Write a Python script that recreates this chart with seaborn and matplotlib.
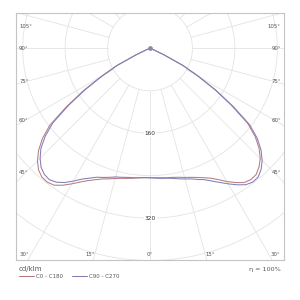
import matplotlib
matplotlib.use("Agg")
import matplotlib.pyplot as plt
import numpy as np
import pandas as pd
import seaborn as sns


# gamma angles (deg from nadir) and luminous intensity (cd/klm) per C-plane
GAMMA = [0, 2.5, 5, 7.5, 10, 12.5, 15, 17.5, 20, 22.5, 25, 27.5, 30, 32.5, 35, 37.5,
         40, 42.5, 45, 47.5, 50, 52.5, 55, 57.5, 60, 62.5, 65, 67.5, 70, 72.5, 75,
         80, 85, 90]
C0 = [244, 244, 245, 246, 247, 249, 252, 255, 259, 264, 270, 279, 290, 300, 309, 312,
      311, 304, 294, 279, 259, 232, 188, 146, 104, 70, 30, 10, 3, 0, 0,
      0, 0, 0]
C180 = [244, 244, 245, 247, 249, 251, 254, 258, 262, 268, 275, 284, 295, 306, 315, 318,
        317, 311, 300, 285, 265, 238, 193, 149, 106, 71, 30, 10, 3, 0, 0,
        0, 0, 0]
C90 = [244, 245, 246, 247, 249, 252, 255, 258, 263, 268, 276, 285, 295, 305, 314, 318,
       317, 310, 299, 284, 264, 237, 192, 148, 105, 71, 30, 10, 3, 0, 0,
       0, 0, 0]
C270 = [244, 244, 245, 246, 247, 249, 251, 255, 259, 263, 270, 278, 289, 300, 308, 312,
        310, 304, 293, 279, 258, 231, 188, 145, 104, 70, 30, 10, 3, 0, 0,
        0, 0, 0]

PLANES = ["C0 - C180", "C90 - C270"]
RINGS = [80, 160, 240, 320, 400]
RING_LABELS = [160, 320]
SIDE_TICKS = [45, 60, 75, 90, 105]
BOTTOM_TICKS = [15, 30]
UNIT = "cd/klm"
ETA = "\u03b7 = 100%"

COLORS = {"C0 - C180": "#b87a80", "C90 - C270": "#7f7fb8"}
GRID = "#e3e3e3"
FRAME = "#c4c4c4"
TEXT = "#555555"

SCALE = 0.53  # px per cd/klm
XLIM = (-253.4, 253.4)
YLIM = (-399.8, 67.4)


def half_curve(values, side):
    g = np.radians(GAMMA)
    v = np.asarray(values, dtype=float)
    return side * v * np.sin(g), -v * np.cos(g)


def plane_frame(name, left_vals, right_vals):
    lx, ly = half_curve(left_vals, -1)
    rx, ry = half_curve(right_vals, 1)
    x = np.concatenate([lx[::-1], rx])
    y = np.concatenate([ly[::-1], ry])
    return pd.DataFrame({"x": x, "y": y, "plane": name})


def draw_grid(ax):
    t = np.linspace(0, 2 * np.pi, 400)
    for r in RINGS:
        ax.plot(r * np.sin(t), r * np.cos(t), color=GRID, lw=0.6, zorder=1)
    for a in range(0, 360, 15):
        g = np.radians(a)
        ax.plot([RINGS[0] * np.sin(g), 900 * np.sin(g)],
                [-RINGS[0] * np.cos(g), -900 * np.cos(g)],
                color=GRID, lw=0.6, zorder=1)


def draw_labels(ax):
    px = 1 / SCALE
    kw = dict(fontsize=3.9, color=TEXT, zorder=5)
    xin = XLIM[1] - 10 * px
    for a in SIDE_TICKS:
        g = np.radians(a)
        y = -xin * np.cos(g) / np.sin(g)
        y = min(y, YLIM[1] - 14 * px)
        ax.text(XLIM[0] + 3.5 * px, y, f"{a}\u00b0", ha="left", va="center", **kw)
        ax.text(XLIM[1] - 3.5 * px, y, f"{a}\u00b0", ha="right", va="center", **kw)
    yb = YLIM[0] + 6 * px
    ax.text(0, yb, "0\u00b0", ha="center", va="center", **kw)
    for a in BOTTOM_TICKS:
        x = -YLIM[0] * np.tan(np.radians(a))
        if x > XLIM[1] - 20 * px:
            ax.text(XLIM[0] + 4 * px, yb, f"{a}\u00b0", ha="left", va="center", **kw)
            ax.text(XLIM[1] - 4 * px, yb, f"{a}\u00b0", ha="right", va="center", **kw)
        else:
            ax.text(-x - 3 * px, yb, f"{a}\u00b0", ha="center", va="center", **kw)
            ax.text(x + 3 * px, yb, f"{a}\u00b0", ha="center", va="center", **kw)
    for r in RING_LABELS:
        ax.text(0, -r, str(r), ha="center", va="center", fontsize=4.2, color="#333333",
                bbox=dict(boxstyle="square,pad=0.15", fc="white", ec="none"), zorder=4)


def main():
    sns.set_style("white")
    plt.rcParams["font.family"] = ["DejaVu Sans"]

    df = pd.concat([
        plane_frame(PLANES[0], C180, C0),
        plane_frame(PLANES[1], C270, C90),
    ], ignore_index=True)

    fig = plt.figure(figsize=(3, 3), dpi=100)
    ax = fig.add_axes([0.052, 0.132, 0.896, 0.826])
    draw_grid(ax)
    draw_labels(ax)

    sns.lineplot(data=df, x="x", y="y", hue="plane", palette=COLORS, sort=False,
                 estimator=None, lw=0.75, ax=ax, zorder=3)
    ax.plot(df["x"].iloc[0], df["y"].iloc[0], "o", ms=2.4, color="#8a8aac", zorder=4)

    ax.set_xlim(*XLIM)
    ax.set_ylim(*YLIM)
    ax.set_xticks([])
    ax.set_yticks([])
    ax.set_xlabel("")
    ax.set_ylabel("")
    for sp in ax.spines.values():
        sp.set_color(FRAME)
        sp.set_linewidth(0.8)

    handles, labels = ax.get_legend_handles_labels()
    ax.legend(handles, labels, loc="center left", bbox_to_anchor=(0.062, 0.078),
              bbox_transform=fig.transFigure, ncol=2, frameon=False, fontsize=4,
              handlelength=2.7, handletextpad=0.4, columnspacing=1.6,
              borderpad=0, borderaxespad=0, labelcolor=TEXT)

    fig.text(0.062, 0.102, UNIT, ha="left", va="center", fontsize=5, color=TEXT)
    fig.text(0.935, 0.1, ETA, ha="right", va="center", fontsize=4.6, color=TEXT)

    fig.savefig("out.png", dpi=100, facecolor="white")
    plt.close(fig)


if __name__ == "__main__":
    main()
